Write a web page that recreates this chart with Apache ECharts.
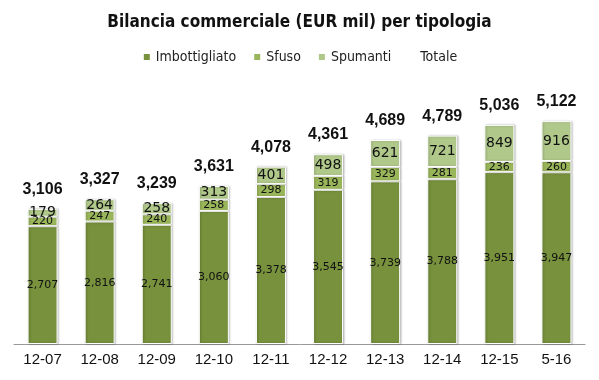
<!DOCTYPE html>
<html><head><meta charset="utf-8">
<script src="https://cdn.jsdelivr.net/npm/echarts@6/dist/echarts.min.js"></script>
<style>html,body{margin:0;padding:0;background:#fff}#c{width:599px;height:380px}</style>
</head><body><div id="c"></div>
<script>
const categories = ['12-07','12-08','12-09','12-10','12-11','12-12','12-13','12-14','12-15','5-16'];
const imbottigliato = [2707,2816,2741,3060,3378,3545,3739,3788,3951,3947];
const sfuso = [220,247,240,258,298,319,329,281,236,260];
const spumanti = [179,264,258,313,401,498,621,721,849,916];
const totale = [3106,3327,3239,3631,4078,4361,4689,4789,5036,5122];

const fmt = p => Number(p.value).toLocaleString('en-US');
const chart = echarts.init(document.getElementById('c'));
const barBase = {type:'bar', stack:'s', barWidth:30,
  itemStyle:{borderColor:'#fff', borderWidth:1, shadowColor:'rgba(0,0,0,0.25)', shadowBlur:2, shadowOffsetX:1},
  emphasis:{disabled:true}};
chart.setOption({
  animation:false,
  title:{text:'Bilancia commerciale (EUR mil) per tipologia', left:'center', top:9,
    textStyle:{fontFamily:'DejaVu Sans Condensed, Liberation Sans', fontWeight:'bold', fontSize:17, color:'#111'}},
  legend:{top:45, left:'center', itemWidth:8, itemHeight:8, itemGap:16,
    textStyle:{fontFamily:'DejaVu Sans Condensed, Liberation Sans', fontSize:14, color:'#222'},
    data:[{name:'Imbottigliato', icon:'rect'},{name:'Sfuso', icon:'rect'},{name:'Spumanti', icon:'rect'},
      {name:'Totale', icon:'rect', itemStyle:{color:'rgba(0,0,0,0)'}}]},
  grid:{left:14, right:14, top:83, bottom:36},
  xAxis:{type:'category', data:categories,
    axisLine:{lineStyle:{color:'#999'}}, axisTick:{show:false},
    axisLabel:{fontFamily:'Liberation Sans', fontSize:15, color:'#111', margin:8}},
  yAxis:{type:'value', min:0, max:6000, show:false, splitLine:{show:false}},
  series:[
    Object.assign({}, barBase, {name:'Imbottigliato', data:imbottigliato,
      itemStyle:Object.assign({}, barBase.itemStyle, {color:'#77913C'}),
      label:{show:true, position:'inside', formatter:fmt, fontFamily:'DejaVu Sans', fontSize:11, color:'#111'}}),
    Object.assign({}, barBase, {name:'Sfuso', data:sfuso,
      itemStyle:Object.assign({}, barBase.itemStyle, {color:'#9AB65A'}),
      label:{show:true, position:'inside', formatter:fmt, fontFamily:'DejaVu Sans', fontSize:11, color:'#111'}}),
    Object.assign({}, barBase, {name:'Spumanti', data:spumanti,
      itemStyle:Object.assign({}, barBase.itemStyle, {color:'#B0C98A'}),
      label:{show:true, position:'inside', formatter:fmt, fontFamily:'DejaVu Sans', fontSize:14, color:'#111'}}),
    {name:'Totale', type:'line', data:totale, symbol:'circle', symbolSize:1, showSymbol:true,
      lineStyle:{width:0, color:'rgba(0,0,0,0)'}, itemStyle:{color:'rgba(0,0,0,0)'},
      label:{show:true, position:'top', distance:11, formatter:fmt, fontFamily:'Liberation Sans', fontWeight:'bold', fontSize:16, color:'#111'}}
  ]
});
</script></body></html>
